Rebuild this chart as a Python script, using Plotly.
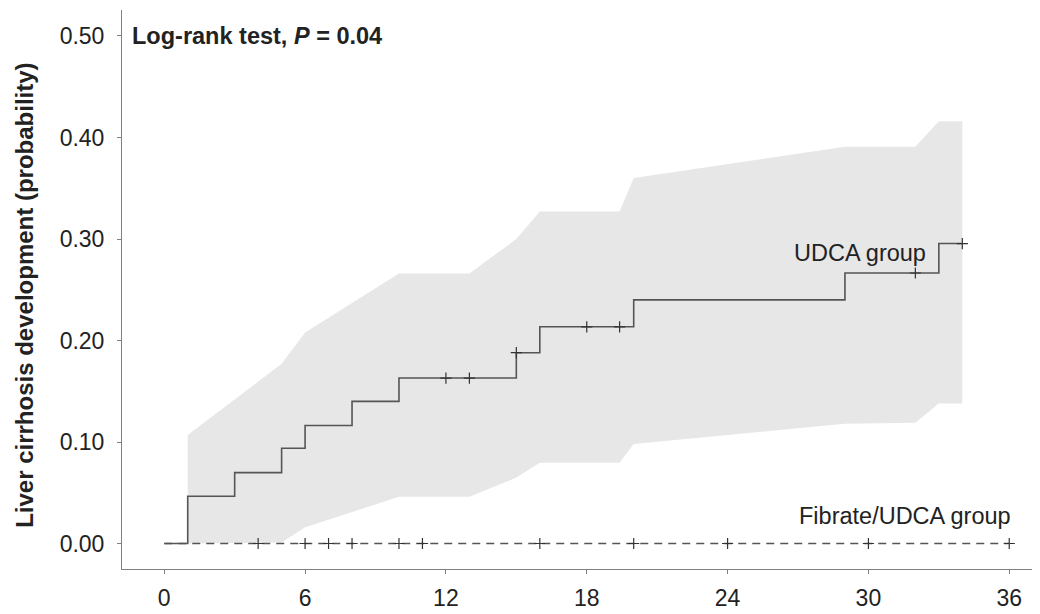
import plotly.graph_objects as go

# ---- data ----
udca_time = [0, 1, 3, 5, 6, 8, 10, 15, 16, 20, 29, 33, 34]
udca_prob = [0, 0.0465, 0.0698, 0.0938, 0.1163, 0.140, 0.163, 0.188, 0.2135, 0.240, 0.2665, 0.2955, 0.2955]
udca_censor_time = [12, 13, 15, 18, 19.4, 32, 34]

ci_time = [1, 5, 6, 10, 13, 15, 16, 19.4, 20, 29, 32, 33, 34]
ci_upper = [0.107, 0.177, 0.208, 0.266, 0.266, 0.300, 0.327, 0.327, 0.360, 0.391, 0.391, 0.416, 0.416]
ci_lower = [0.000, 0.001, 0.016, 0.046, 0.046, 0.065, 0.0795, 0.0795, 0.098, 0.118, 0.119, 0.138, 0.138]

fib_time = [0, 36]
fib_prob = [0, 0]
fib_censor_time = [4, 6, 7, 8, 10, 11, 16, 20, 24, 30, 36]

x_ticks = [0, 6, 12, 18, 24, 30, 36]
y_ticks = [0, 0.1, 0.2, 0.3, 0.4, 0.5]
y_ticklabels = ["0.00", "0.10", "0.20", "0.30", "0.40", "0.50"]


def step_value(times, probs, t):
    v = probs[0]
    for ti, pi in zip(times, probs):
        if ti <= t:
            v = pi
    return v


FONT = "Liberation Sans, Arial, Helvetica, sans-serif"
LINE = "#555555"
TXT = "#222222"

fig = go.Figure()

# confidence band
fig.add_trace(go.Scatter(
    x=ci_time + ci_time[::-1],
    y=ci_upper + ci_lower[::-1],
    fill="toself", fillcolor="#e7e7e7",
    line=dict(width=0), mode="lines", hoverinfo="skip", showlegend=False))

# Fibrate/UDCA group dashed line
fig.add_trace(go.Scatter(
    x=fib_time, y=fib_prob, mode="lines", line_shape="hv",
    line=dict(color=LINE, width=1.3, dash="8px,6px"), showlegend=False))
fig.add_trace(go.Scatter(
    x=fib_censor_time, y=[step_value(fib_time, fib_prob, t) for t in fib_censor_time],
    mode="markers", marker=dict(symbol="cross-thin", size=8, line=dict(width=1.2, color="#333333")),
    showlegend=False))

# UDCA step line
fig.add_trace(go.Scatter(
    x=udca_time, y=udca_prob, mode="lines", line_shape="hv",
    line=dict(color=LINE, width=1.6), showlegend=False))
fig.add_trace(go.Scatter(
    x=udca_censor_time, y=[step_value(udca_time, udca_prob, t) for t in udca_censor_time],
    mode="markers", marker=dict(symbol="cross-thin", size=8, line=dict(width=1.2, color="#333333")),
    showlegend=False))

fig.add_annotation(x=-1.45, y=0.5, xref="x", yref="y", xanchor="left", yanchor="middle",
                   text="<b>Log-rank test, <i>P</i> = 0.04</b>", showarrow=False,
                   font=dict(family=FONT, size=23.5, color=TXT))
fig.add_annotation(x=32.55, y=0.286, xref="x", yref="y", xanchor="right", yanchor="middle",
                   text="UDCA group", showarrow=False,
                   font=dict(family=FONT, size=23.5, color=TXT))
fig.add_annotation(x=36.15, y=0.027, xref="x", yref="y", xanchor="right", yanchor="middle",
                   text="Fibrate/UDCA group", showarrow=False,
                   font=dict(family=FONT, size=23.5, color=TXT))
fig.add_annotation(x=-0.107, y=0.49, xref="paper", yref="paper", xanchor="center", yanchor="middle",
                   text="<b>Liver cirrhosis development (probability)</b>", textangle=-90,
                   showarrow=False, font=dict(family=FONT, size=24, color=TXT))

# page body has an 8px margin: size and margins chosen so the plot area lands where it should
fig.update_layout(
    width=1032, height=606,
    margin=dict(l=114, r=0, t=2, b=45),
    plot_bgcolor="white", paper_bgcolor="white",
    font=dict(family=FONT, size=23, color=TXT),
    xaxis=dict(range=[-1.80, 37.31], tickvals=x_ticks, ticktext=[str(v) for v in x_ticks],
               showgrid=False, zeroline=False, showline=True, linecolor="#808080", linewidth=1,
               ticks="outside", ticklen=4, tickcolor="#808080", ticklabelstandoff=4,
               tickfont=dict(family=FONT, size=23, color=TXT)),
    yaxis=dict(range=[-0.0251, 0.5256], tickvals=y_ticks, ticktext=y_ticklabels,
               showgrid=False, zeroline=False, showline=True, linecolor="#808080", linewidth=1,
               ticks="outside", ticklen=4, tickcolor="#808080", ticklabelstandoff=8,
               tickfont=dict(family=FONT, size=23, color=TXT)),
)

fig.write_html("out.html")
